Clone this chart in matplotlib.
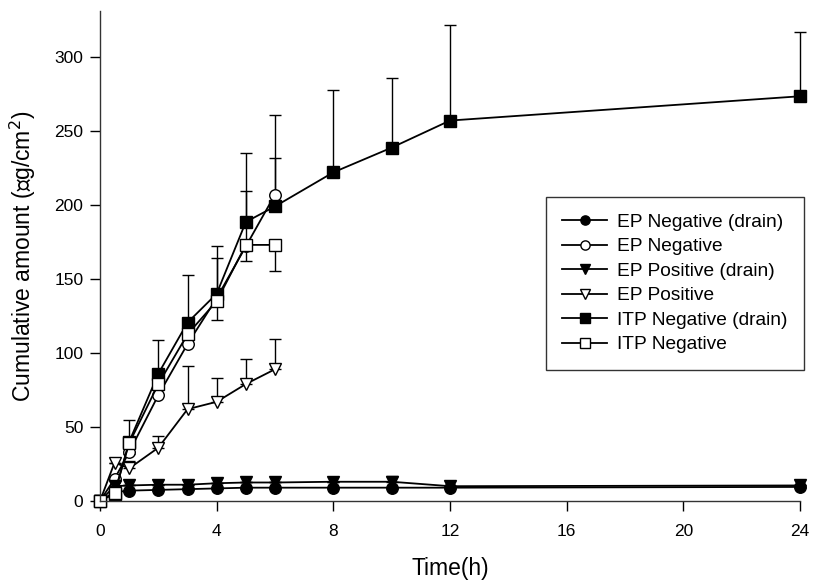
import matplotlib
matplotlib.use("Agg")
import matplotlib.pyplot as plt
from matplotlib.lines import Line2D
import numpy as np

plt.rcParams['font.family'] = ['Liberation Sans', 'DejaVu Sans']

# Time points
t_full = [0, 0.5, 1, 2, 3, 4, 5, 6, 8, 10, 12, 24]
t_short = [0, 0.5, 1, 2, 3, 4, 5, 6]

# EP Negative (drain) - filled circles
ep_neg_drain = [0, 6, 7, 7.5, 8, 8.5, 9, 9, 9, 9, 9, 9.5]
# EP Negative - open circles
ep_neg = [0, 15, 33, 71.5, 106, 137, 172, 207]
ep_neg_up = [0, 0, 0, 0, 0, 27, 37.5, 25]
# EP Positive (drain) - filled triangles
ep_pos_drain = [0, 10, 10.5, 11, 11, 12, 12.5, 12.5, 13, 13, 10, 10.5]
ep_pos_drain_up = [0, 0, 0, 0, 0, 0, 0, 0, 0, 4, 0, 0]
# EP Positive - open triangles
ep_pos = [0, 26, 22, 36, 62, 67, 79, 89]
ep_pos_up = [0, 0, 5, 8, 29, 16, 17, 20.5]
# ITP Negative (drain) - filled squares
itp_neg_drain = [0, 5, 40, 86, 120.5, 140, 188.5, 199, 222, 238.7, 257, 273.4]
itp_neg_drain_up = [0, 0, 15, 23, 32.5, 32, 46.5, 62, 55.5, 47, 64.5, 43.5]
# ITP Negative - open squares
itp_neg = [0, 5.4, 39, 79, 112.6, 135, 173, 173]
itp_neg_lo = [0, 0, 7, 0, 0, 13, 11, 17.5]

labels = ['EP Negative (drain)', 'EP Negative', 'EP Positive (drain)',
          'EP Positive', 'ITP Negative (drain)', 'ITP Negative']
markers = ['o', 'o', 'v', 'v', 's', 's']
faces = ['black', 'white', 'black', 'white', 'black', 'white']

fig = plt.figure(figsize=(8.14, 5.81), dpi=100)
# axes: x 100..800 px, y 11..501 px
ax = fig.add_axes([100/814, 80/581, 700/814, 490/581])

lw = 1.3
ms = 8.3
cap = 4.5
kw = dict(color='black', lw=lw, markersize=ms, markeredgecolor='black',
          markeredgewidth=1.0, ecolor='black', elinewidth=1.0, capsize=cap, capthick=1.0)

z = np.zeros(len(t_full))
zs = np.zeros(len(t_short))

ax.errorbar(t_full, ep_neg_drain, marker=markers[0], markerfacecolor=faces[0], **kw)
ax.errorbar(t_short, ep_neg, yerr=[zs, ep_neg_up], marker=markers[1], markerfacecolor=faces[1], **kw)
ax.errorbar(t_full, ep_pos_drain, yerr=[z, ep_pos_drain_up], marker=markers[2], markerfacecolor=faces[2], **kw)
ax.errorbar(t_short, ep_pos, yerr=[zs, ep_pos_up], marker=markers[3], markerfacecolor=faces[3], **kw)
ax.errorbar(t_full, itp_neg_drain, yerr=[z, itp_neg_drain_up], marker=markers[4], markerfacecolor=faces[4], **kw)
ax.errorbar(t_short, itp_neg, yerr=[itp_neg_lo, zs], marker=markers[5], markerfacecolor=faces[5], **kw)

ax.set_xlim(0, 24)
ax.set_ylim(0, 331)
ax.set_xticks([0, 4, 8, 12, 16, 20, 24])
ax.set_yticks([0, 50, 100, 150, 200, 250, 300])
ax.tick_params(direction='out', length=7, width=1.0, labelsize=12.5)
ax.tick_params(axis='x', pad=9.5)
ax.tick_params(axis='y', pad=5)
for s in ['top', 'right']:
    ax.spines[s].set_visible(False)
for s in ['left', 'bottom']:
    ax.spines[s].set_linewidth(1.0)
    ax.spines[s].set_color('#333333')

ax.set_xlabel('Time(h)', fontsize=16.5, labelpad=13)
ax.set_ylabel('Cumulative amount (∝g/cm$^2$)', fontsize=16.5, labelpad=12)

for art in ax.get_children():
    try:
        art.set_clip_on(False)
    except Exception:
        pass

handles = [Line2D([], [], color='black', lw=lw, marker=m, markersize=ms * 0.8,
                  markerfacecolor=f, markeredgecolor='black', markeredgewidth=1.0)
           for m, f in zip(markers, faces)]
leg = ax.legend(handles, labels, loc='upper right', bbox_to_anchor=(1.006, 0.620), fontsize=13.8,
                frameon=True, fancybox=False, edgecolor='black', handlelength=2.35,
                handletextpad=0.52, labelspacing=0.37, borderpad=0.85,
                borderaxespad=0)
leg.get_frame().set_linewidth(1.0)

fig.savefig('out.png', dpi=100)
